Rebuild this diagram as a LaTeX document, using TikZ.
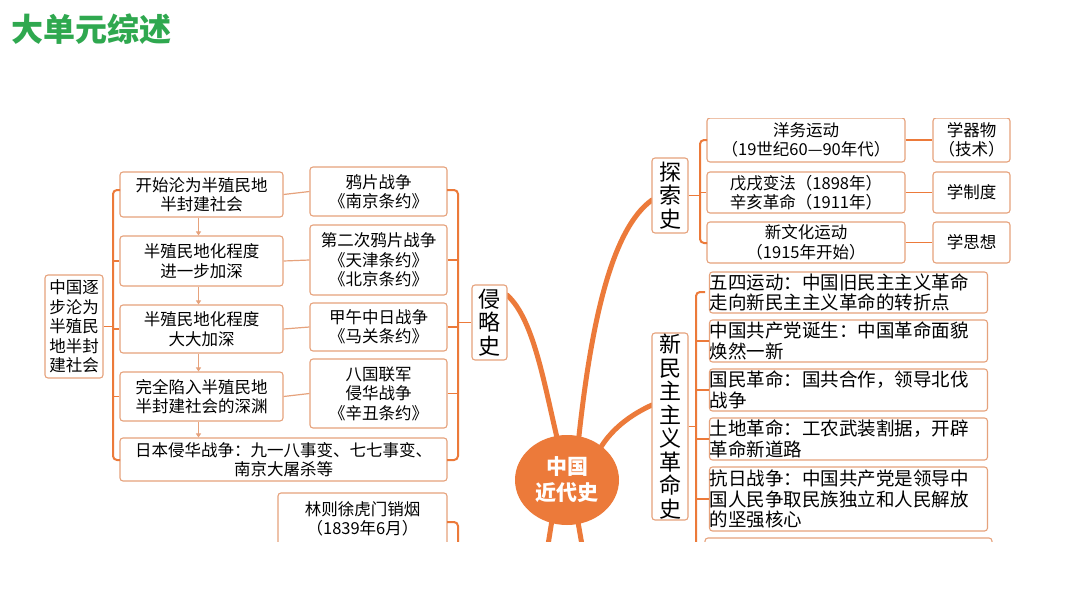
\documentclass[tikz,border=0pt]{standalone}
\usepackage{fontspec}
\setmainfont{Noto Sans CJK SC}
\usetikzlibrary{arrows.meta,shapes.geometric}
\definecolor{org}{HTML}{EC7A3A}
\definecolor{bd}{HTML}{E6A27C}
\definecolor{ttl}{HTML}{2FA84F}
\tikzset{
 box/.style={draw=bd,line width=1.1pt,rounded corners=3pt,fill=white,align=center,inner sep=0pt,font=\fontsize{16.5}{19.5}\selectfont},
 lbox/.style={box,align=left,text width=#1,font=\fontsize{18.5}{20.5}\selectfont},
 vbox/.style={box,font=\fontsize{22}{23.5}\selectfont},
 br/.style={draw=org,line width=2pt,rounded corners=4pt},
 tk/.style={draw=org,line width=1.6pt},
 ln/.style={draw=bd,line width=1.2pt},
 cv/.style={draw=org,line width=5pt,line cap=round},
 ar/.style={draw=bd,line width=1pt,-{Triangle[length=4pt,width=5pt]}}
}
\begin{document}
\begin{tikzpicture}[x=1pt,y=-1pt]
\useasboundingbox (0,0) rectangle (1080,608);
\fill[white] (0,0) rectangle (1080,608);
\node[text=ttl,font=\fontsize{32}{34}\selectfont\bfseries,anchor=west] (title) at (8,29) {大单元综述};
\begin{scope}
\clip (0,118) rectangle (1080,541);
% curves
\draw[cv] (560,450) .. controls (545,390) and (535,320) .. (507,295);
\draw[cv] (578,445) .. controls (590,330) and (610,230) .. (652,200);
\draw[cv] (598,452) .. controls (610,430) and (630,415) .. (652,405);
\draw[cv] (552,520) -- (548,545);
\draw[cv] (578,522) -- (582,545);
\node[ellipse,fill=org,minimum width=104,minimum height=90,text=white,align=center,font=\fontsize{21}{26}\selectfont\bfseries] (core) at (567,480) {中国\\近代史};
% left part
\node[box,minimum width=58,minimum height=103] (root) at (74,326.5) {中国逐\\步沦为\\半殖民\\地半封\\建社会};
\node[box,minimum width=163,minimum height=45] (a1) at (201.5,194.5) {开始沦为半殖民地\\半封建社会};
\node[box,minimum width=163,minimum height=50] (a2) at (201.5,261) {半殖民地化程度\\进一步加深};
\node[box,minimum width=163,minimum height=48] (a3) at (201.5,329) {半殖民地化程度\\大大加深};
\node[box,minimum width=163,minimum height=49] (a4) at (201.5,396.5) {完全陷入半殖民地\\半封建社会的深渊};
\node[box,minimum width=327,minimum height=43] (a5) at (283.5,459.5) {日本侵华战争：九一八事变、七七事变、\\南京大屠杀等};
\node[box,minimum width=137,minimum height=49] (b1) at (378.5,191.5) {鸦片战争\\《南京条约》};
\node[box,minimum width=137,minimum height=70] (b2) at (378.5,260) {第二次鸦片战争\\《天津条约》\\《北京条约》};
\node[box,minimum width=137,minimum height=48] (b3) at (378.5,327) {甲午中日战争\\《马关条约》};
\node[box,minimum width=137,minimum height=69] (b4) at (378.5,393.5) {八国联军\\侵华战争\\《辛丑条约》};
\node[vbox,minimum width=35,minimum height=75] (qls) at (489.5,322.5) {侵\\略\\史};
\node[box,minimum width=169,minimum height=52] (lin) at (362.5,519) {林则徐虎门销烟\\（1839年6月）};
\foreach \a/\b in {a1/a2,a2/a3,a3/a4,a4/a5}{\draw[ar] ([xshift=-3pt]\a.south) -- ([xshift=-3pt]\a.south |- \b.north);}
\foreach \a/\b in {a1/b1,a2/b2,a3/b3,a4/b4}{\draw[ln] (\a.east) -- (\b.west);}
\draw[br] (120,190) -- (113,190) -- (113,460) -- (120,460);
\foreach \n in {a2,a3,a4}{\draw[tk] (113,0 |- \n.west) -- (\n.west);}
\draw[tk] (root.east) -- (113,326.5);
\draw[br] (447,190) -- (458,190) -- (458,460) -- (447,460);
\foreach \n in {b2,b3,b4}{\draw[tk] (\n.east) -- (458,0 |- \n.east);}
\draw[tk] (458,322.5) -- (qls.west);
\draw[br] (447,522) -- (458,522) -- (458,560);
% tansuo
\node[vbox,minimum width=36,minimum height=75] (tss) at (670,195.5) {探\\索\\史};
\node[box,minimum width=198,minimum height=44] (c1) at (806,140) {洋务运动\\（19世纪60—90年代）};
\node[box,minimum width=198,minimum height=41] (c2) at (806,192.5) {戊戌变法（1898年）\\辛亥革命（1911年）};
\node[box,minimum width=198,minimum height=41] (c3) at (806,242.5) {新文化运动\\（1915年开始）};
\node[box,minimum width=77,minimum height=44] (d1) at (971.5,140) {学器物\\（技术）};
\node[box,minimum width=77,minimum height=41] (d2) at (971.5,192.5) {学制度};
\node[box,minimum width=77,minimum height=41] (d3) at (971.5,242.5) {学思想};
\foreach \a/\b in {c1/d1,c2/d2,c3/d3}{\draw[tk] (\a.east) -- (\b.west);}
\draw[br] (707,140) -- (700,140) -- (700,243) -- (707,243);
\draw[tk] (tss.east) -- (700,195.5);
\draw[tk] (700,192.5) -- (c2.west);
% xin minzhu
\node[vbox,minimum width=36,minimum height=187] (xmz) at (670,426.5) {新\\民\\主\\主\\义\\革\\命\\史};
\node[lbox=278,minimum height=41] (e1) at (848.5,292.5) {五四运动：中国旧民主主义革命\\走向新民主主义革命的转折点};
\node[lbox=278,minimum height=42] (e2) at (848.5,341) {中国共产党诞生：中国革命面貌\\焕然一新};
\node[lbox=278,minimum height=42] (e3) at (848.5,390) {国民革命：国共合作，领导北伐\\战争};
\node[lbox=278,minimum height=42] (e4) at (848.5,439) {土地革命：工农武装割据，开辟\\革命新道路};
\node[lbox=278,minimum height=64] (e5) at (848.5,499) {抗日战争：中国共产党是领导中\\国人民争取民族独立和人民解放\\的坚强核心};
\node[box,minimum width=287,minimum height=40] (e6) at (848.5,558) {};
\draw[br] (705,292) -- (696,292) -- (696,560);
\foreach \n in {e2,e3,e4,e5}{\draw[tk] (696,0 |- \n.west) -- (\n.west);}
\draw[tk] (xmz.east) -- (696,0 |- xmz.east);
\end{scope}
\end{tikzpicture}
\end{document}
